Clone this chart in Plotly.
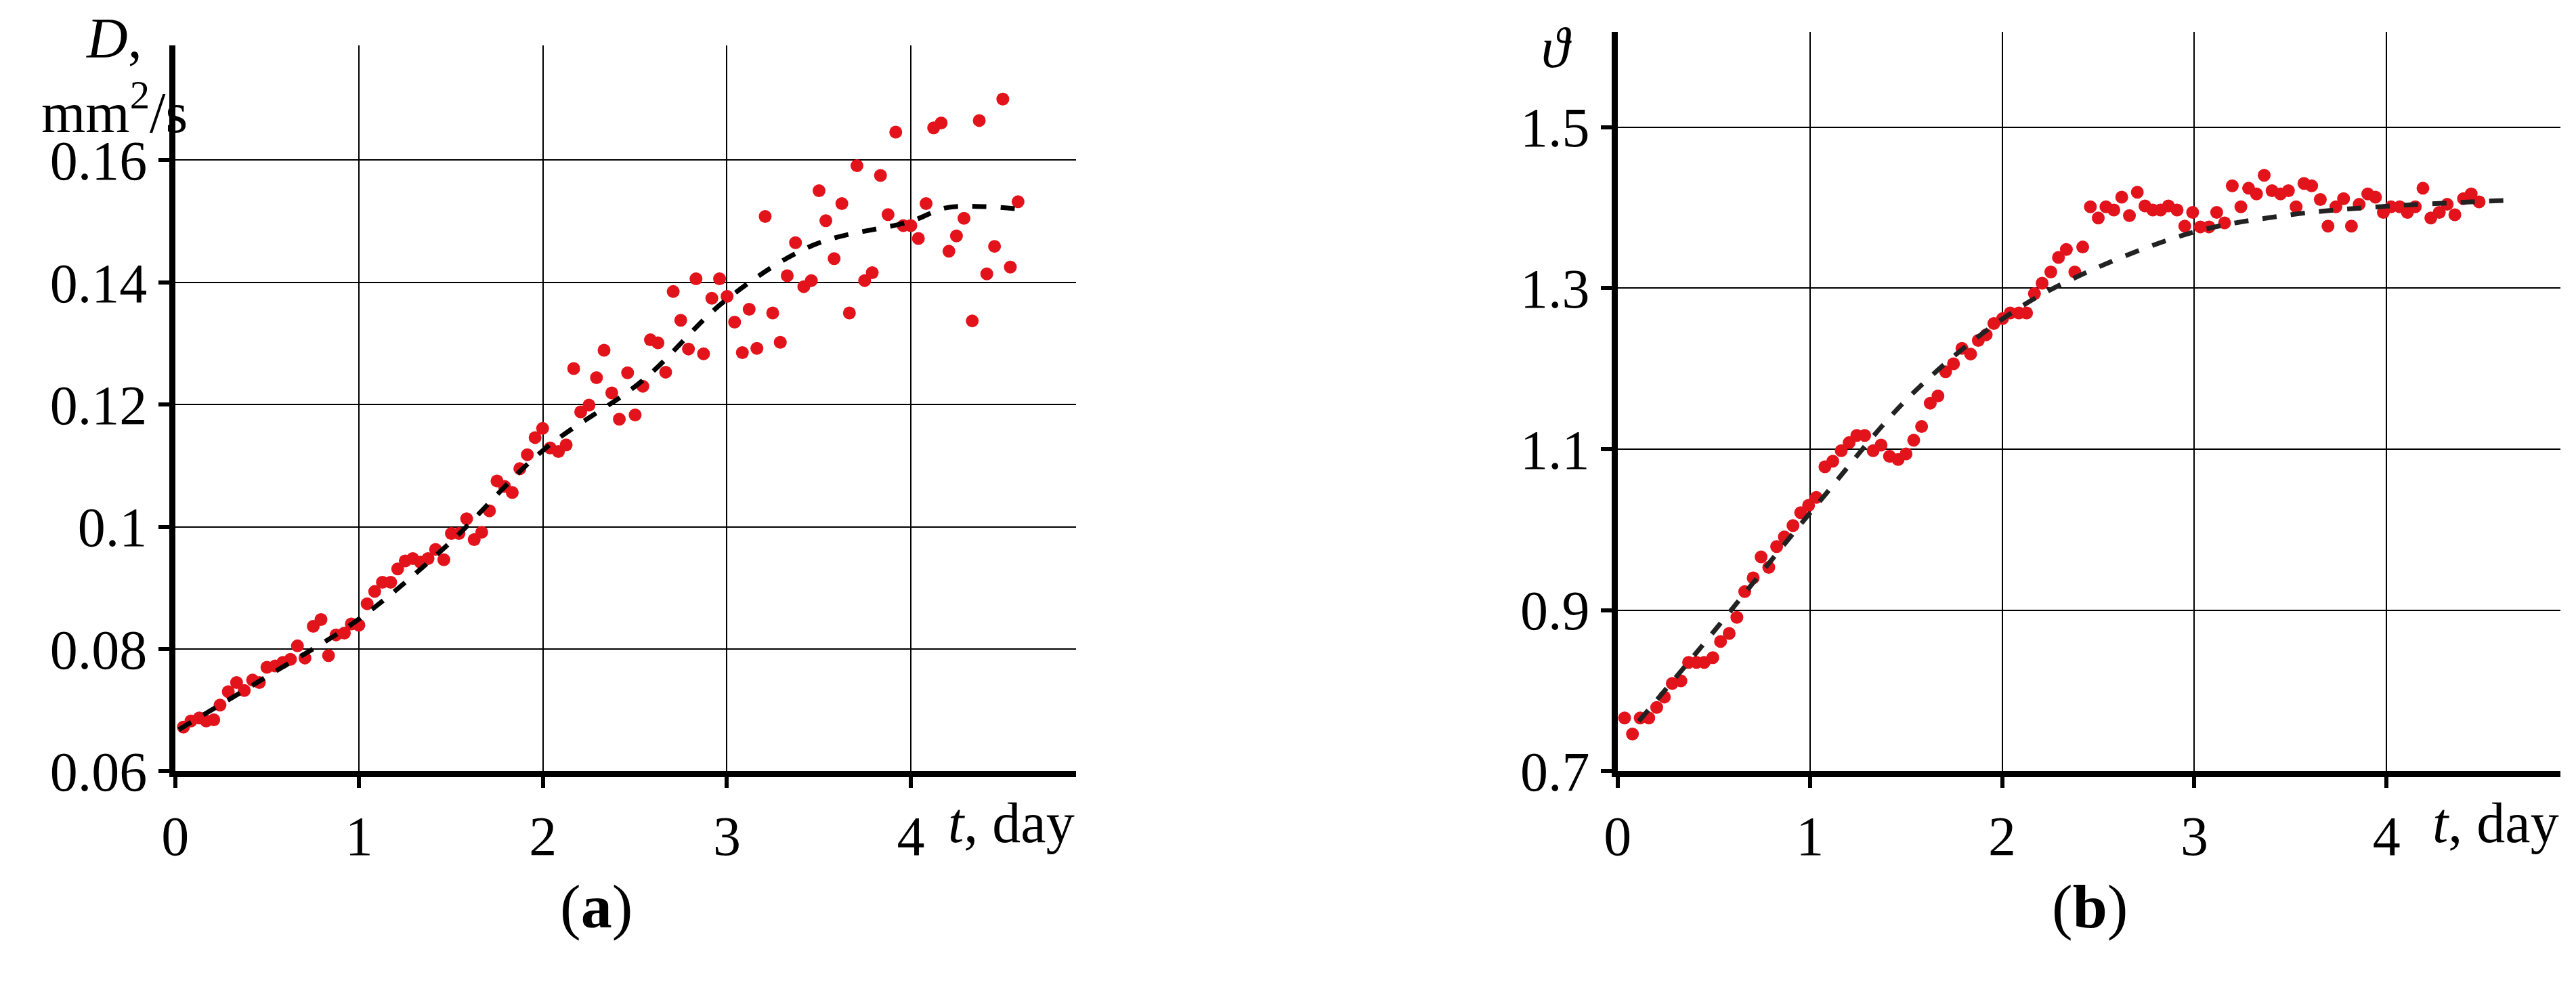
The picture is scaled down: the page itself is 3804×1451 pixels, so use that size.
import plotly.graph_objects as go

# panel (a): diffusion coefficient D, mm^2/s
t_a = [0.045, 0.086, 0.131, 0.169, 0.21, 0.244, 0.289, 0.334, 0.376, 0.421, 0.458, 0.499, 0.544, 0.586,
       0.627, 0.665, 0.706, 0.751, 0.793, 0.834, 0.875, 0.92, 0.958, 0.999, 1.044, 1.085, 1.127, 1.172,
       1.21, 1.251, 1.292, 1.333, 1.375, 1.416, 1.461, 1.502, 1.543, 1.585, 1.626, 1.667, 1.709, 1.75,
       1.791, 1.833, 1.874, 1.915, 1.957, 1.998, 2.039, 2.084, 2.126, 2.167, 2.205, 2.25, 2.291, 2.332,
       2.374, 2.415, 2.46, 2.501, 2.543, 2.584, 2.625, 2.667, 2.708, 2.749, 2.791, 2.832, 2.873, 2.918,
       2.96, 3.001, 3.042, 3.084, 3.121, 3.163, 3.208, 3.249, 3.29, 3.328, 3.373, 3.418, 3.459, 3.501,
       3.538, 3.583, 3.625, 3.666, 3.707, 3.749, 3.79, 3.835, 3.876, 3.918, 3.959, 4.0, 4.041, 4.083,
       4.124, 4.165, 4.207, 4.248, 4.289, 4.334, 4.372, 4.413, 4.455, 4.5, 4.541, 4.583, 4.628, 4.662]
D_a = [0.0672, 0.0682, 0.0687, 0.0682, 0.0684, 0.0708, 0.073, 0.0745, 0.0732, 0.0749, 0.0745, 0.077,
       0.0772, 0.0778, 0.0783, 0.0805, 0.0785, 0.0837, 0.0848, 0.0789, 0.0823, 0.0826, 0.0841, 0.0839,
       0.0874, 0.0894, 0.0909, 0.0909, 0.0931, 0.0944, 0.0948, 0.0942, 0.0948, 0.0963, 0.0946, 0.0989,
       0.0989, 0.1013, 0.0979, 0.0991, 0.1026, 0.1075, 0.1066, 0.1056, 0.1095, 0.1118, 0.1146, 0.1161,
       0.1129, 0.1123, 0.1134, 0.1259, 0.1188, 0.1199, 0.1244, 0.1289, 0.1219, 0.1176, 0.1252, 0.1183,
       0.123, 0.1306, 0.1301, 0.1253, 0.1385, 0.1338, 0.1291, 0.1406, 0.1283, 0.1374, 0.1406, 0.1377,
       0.1335, 0.1285, 0.1356, 0.1292, 0.1508, 0.1350, 0.1302, 0.1411, 0.1465, 0.1393, 0.1403, 0.155,
       0.1501, 0.1439, 0.1529, 0.135, 0.1591, 0.1403, 0.1416, 0.1575, 0.1511, 0.1646, 0.1493, 0.1493,
       0.1472, 0.1529, 0.1653, 0.1661, 0.1451, 0.1476, 0.1505, 0.1337, 0.1665, 0.1414, 0.1459, 0.1700,
       0.1425, 0.1532]
fit_t_a = [0.02, 0.5, 1.0, 1.48, 2.0, 2.54, 2.99, 3.47, 4.0, 4.19, 4.4, 4.62]
fit_D_a = [0.0668, 0.0755, 0.0849, 0.097, 0.1125, 0.1239, 0.137, 0.1461, 0.150, 0.1522, 0.1524, 0.1519]

# panel (b): dimensionless theta
t_b = [0.036, 0.077, 0.117, 0.162, 0.203, 0.243, 0.284, 0.329, 0.369, 0.41, 0.45, 0.495, 0.535, 0.58,
       0.62, 0.661, 0.705, 0.746, 0.786, 0.827, 0.867, 0.912, 0.952, 0.993, 1.033, 1.078, 1.119, 1.163,
       1.204, 1.244, 1.285, 1.329, 1.37, 1.414, 1.459, 1.5, 1.54, 1.581, 1.626, 1.666, 1.706, 1.747,
       1.791, 1.836, 1.876, 1.917, 1.957, 2.002, 2.042, 2.087, 2.127, 2.168, 2.208, 2.253, 2.293, 2.334,
       2.378, 2.419, 2.459, 2.5, 2.54, 2.581, 2.622, 2.662, 2.703, 2.743, 2.784, 2.824, 2.865, 2.91,
       2.95, 2.991, 3.031, 3.076, 3.116, 3.157, 3.197, 3.242, 3.282, 3.323, 3.363, 3.404, 3.448, 3.489,
       3.529, 3.57, 3.61, 3.655, 3.695, 3.736, 3.776, 3.817, 3.857, 3.902, 3.942, 3.983, 4.023, 4.068,
       4.108, 4.149, 4.189, 4.23, 4.274, 4.315, 4.355, 4.4, 4.44, 4.481, 4.521, 4.566, 4.606]
th_b = [0.766, 0.746, 0.766, 0.766, 0.779, 0.792, 0.809, 0.812, 0.835, 0.835, 0.835, 0.841, 0.861,
        0.871, 0.891, 0.923, 0.94, 0.966, 0.953, 0.979, 0.991, 1.005, 1.021, 1.03, 1.04, 1.078, 1.085,
        1.098, 1.108, 1.117, 1.117, 1.098, 1.105, 1.091, 1.087, 1.094, 1.111, 1.128, 1.157, 1.166, 1.196,
        1.206, 1.225, 1.218, 1.235, 1.242, 1.256, 1.262, 1.269, 1.269, 1.269, 1.293, 1.306, 1.32, 1.338,
        1.348, 1.32, 1.351, 1.401, 1.387, 1.401, 1.397, 1.413, 1.39, 1.419, 1.402, 1.397, 1.397, 1.402,
        1.397, 1.377, 1.394, 1.376, 1.376, 1.394, 1.381, 1.427, 1.401, 1.424, 1.417, 1.44, 1.421, 1.417,
        1.421, 1.401, 1.43, 1.427, 1.41, 1.377, 1.401, 1.411, 1.377, 1.404, 1.417, 1.413, 1.394, 1.401,
        1.401, 1.394, 1.401, 1.424, 1.387, 1.394, 1.404, 1.391, 1.411, 1.417, 1.407]
fit_t_b = [0.11, 0.43, 1.04, 1.53, 2.01, 2.38, 2.99, 3.5, 3.96, 4.63]
fit_th_b = [0.762, 0.853, 1.032, 1.168, 1.263, 1.313, 1.369, 1.391, 1.401, 1.409]

FONT = "Liberation Serif, Times New Roman, serif"
RED = "#e3131b"

fig = go.Figure()
fig.add_trace(go.Scatter(x=t_a, y=D_a, mode="markers", marker=dict(color=RED, size=19),
                         xaxis="x", yaxis="y", showlegend=False))
fig.add_trace(go.Scatter(x=fit_t_a, y=fit_D_a, mode="lines",
                         line=dict(color="black", width=7, dash="dash", shape="spline"),
                         xaxis="x", yaxis="y", showlegend=False))
fig.add_trace(go.Scatter(x=t_b, y=th_b, mode="markers", marker=dict(color=RED, size=19),
                         xaxis="x2", yaxis="y2", showlegend=False))
fig.add_trace(go.Scatter(x=fit_t_b, y=fit_th_b, mode="lines",
                         line=dict(color="#222", width=7, dash="dash", shape="spline"),
                         xaxis="x2", yaxis="y2", showlegend=False))

axis_common = dict(showline=True, linecolor="black", linewidth=9, ticks="outside", ticklen=16,
                   tickwidth=6, tickcolor="black", showgrid=True, gridcolor="black", gridwidth=2,
                   zeroline=False, tickfont=dict(family=FONT, size=82, color="black"))

fig.update_layout(
    width=3804, height=1451, margin=dict(l=0, r=0, t=0, b=0),
    paper_bgcolor="white", plot_bgcolor="white",
    xaxis=dict(domain=[0.0607, 0.4125], range=[0, 4.9], tickvals=[0, 1, 2, 3, 4], anchor="y", **axis_common),
    yaxis=dict(domain=[0.195, 0.958], range=[0.06, 0.1788], tickvals=[0.06, 0.08, 0.1, 0.12, 0.14, 0.16],
               ticktext=["0.06", "0.08", "0.1", "0.12", "0.14", "0.16"], anchor="x", **axis_common),
    xaxis2=dict(domain=[0.6238, 0.9918], range=[0, 4.904], tickvals=[0, 1, 2, 3, 4], anchor="y2", **axis_common),
    yaxis2=dict(domain=[0.195, 0.972], range=[0.7, 1.618], tickvals=[0.7, 0.9, 1.1, 1.3, 1.5],
                anchor="x2", **axis_common),
)

txt = dict(family=FONT, size=84, color="black")
fig.add_annotation(x=0.037, y=1.0, xref="paper", yref="paper", text="<i>D</i>,", showarrow=False,
                   font=txt, xanchor="center", yanchor="top")
fig.add_annotation(x=0.037, y=0.93, xref="paper", yref="paper", text="mm<sup>2</sup>/s", showarrow=False,
                   font=txt, xanchor="center", yanchor="top")
fig.add_annotation(x=0.4125, y=0.175, xref="paper", yref="paper", text="<i>t</i>, day", showarrow=False,
                   font=txt, xanchor="right", yanchor="top")
fig.add_annotation(x=0.6, y=0.99, xref="paper", yref="paper", text="<i>ϑ</i>", showarrow=False,
                   font=txt, xanchor="center", yanchor="top")
fig.add_annotation(x=0.9918, y=0.175, xref="paper", yref="paper", text="<i>t</i>, day", showarrow=False,
                   font=txt, xanchor="right", yanchor="top")
fig.add_annotation(x=0.225, y=0.015, xref="paper", yref="paper", text="(<b>a</b>)", showarrow=False,
                   font=dict(family=FONT, size=92, color="black"), xanchor="center", yanchor="bottom")
fig.add_annotation(x=0.808, y=0.015, xref="paper", yref="paper", text="(<b>b</b>)", showarrow=False,
                   font=dict(family=FONT, size=92, color="black"), xanchor="center", yanchor="bottom")

fig.write_html("out.html")
